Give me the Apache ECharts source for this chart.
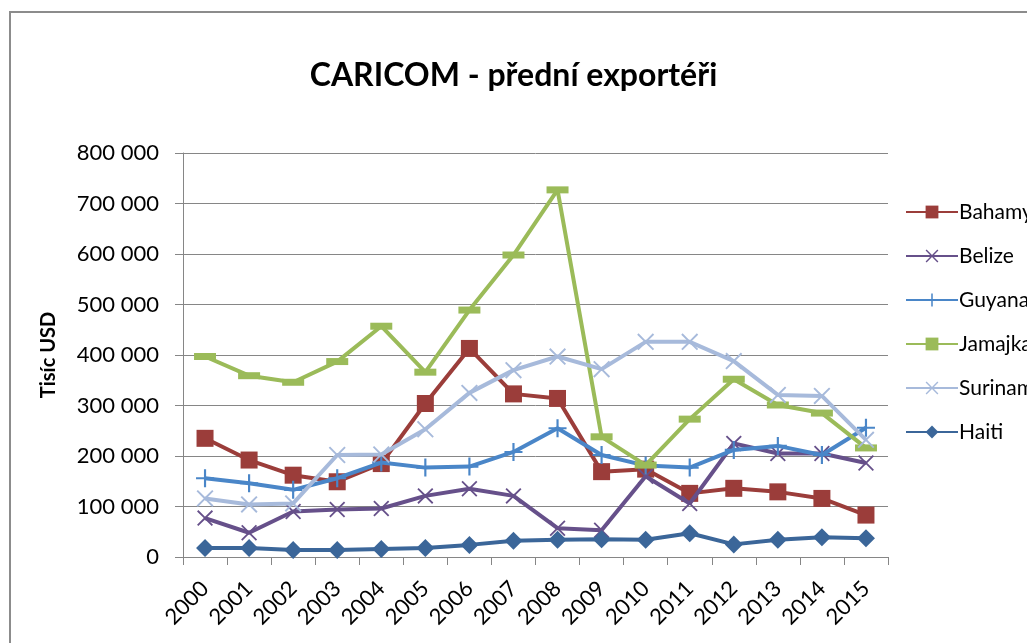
<!DOCTYPE html>
<html>
<head>
<meta charset="utf-8">
<script src="https://cdn.jsdelivr.net/npm/echarts@6/dist/echarts.min.js"></script>
<style>
html,body{margin:0;padding:0;background:#fff;}
#chart{width:1027px;height:643px;}
</style>
</head>
<body>
<div id="chart"></div>
<script>
const years = ['2000','2001','2002','2003','2004','2005','2006','2007','2008','2009','2010','2011','2012','2013','2014','2015'];
const seriesNames = ['Bahamy','Belize','Guyana','Jamajka','Surinam','Haiti'];
const bahamy  = [235000,192000,162000,149000,185000,304000,413000,323000,314000,169000,174000,126000,136000,129000,116000,83000];
const belize  = [77000,48000,90000,94000,96000,121000,135000,121000,57000,53000,160000,106000,225000,205000,205000,186000];
const guyana  = [156000,146000,133000,156000,187000,177000,179000,208000,255000,202000,181000,177000,212000,220000,202000,256000];
const jamajka = [397000,359000,346000,387000,457000,366000,489000,598000,727000,238000,182000,273000,352000,301000,285000,216000];
const surinam = [116000,104000,106000,202000,203000,253000,325000,370000,397000,372000,426000,426000,388000,321000,319000,232000];
const haiti   = [18000,18000,14000,14000,16000,18000,24000,32000,34000,35000,34000,47000,25000,34000,39000,37000];
const yTicks = {min:0, max:800000, interval:100000};

const colors = ['#9B3D3A','#66508A','#4A86C8','#9BBB59','#A7BADB','#3B6699'];
const xPath = 'path://M0,0.8 L0.8,0 L5,4.2 L9.2,0 L10,0.8 L5.8,5 L10,9.2 L9.2,10 L5,5.8 L0.8,10 L0,9.2 L4.2,5 Z';
const plusPath = 'path://M4.4,0 L5.6,0 L5.6,4.4 L10,4.4 L10,5.6 L5.6,5.6 L5.6,10 L4.4,10 L4.4,5.6 L0,5.6 L0,4.4 L4.4,4.4 Z';
const symbols = [['rect',17],[xPath,16],[plusPath,18],['rect',[22,7]],[xPath,17],['diamond',18]];
const dataSets = [bahamy,belize,guyana,jamajka,surinam,haiti];

const FONT = 'Lato';
const fmt = v => String(v).replace(/\B(?=(\d{3})+(?!\d))/g,' ');

const chart = echarts.init(document.getElementById('chart'), null, {renderer:'canvas'});
chart.setOption({
  animation:false,
  backgroundColor:'#fff',
  color: colors,
  graphic:[{type:'rect', shape:{x:10,y:12,width:1100,height:700}, style:{fill:'none',stroke:'#8C8C8C',lineWidth:2}, z:-1}],
  title:{text:'CARICOM - přední exportéři', left:'center', top:55,
    textStyle:{fontFamily:FONT, fontSize:32, fontWeight:'bold', color:'#000'}},
  legend:{orient:'vertical', left:900, top:195, itemWidth:52, itemHeight:16, itemGap:20,
    data: seriesNames,
    textStyle:{fontFamily:FONT, fontSize:21, color:'#000', lineHeight:24, padding:[0,0,0,-4]}},
  grid:{left:183, right:139, top:153, bottom:86, containLabel:false},
  xAxis:{type:'category', data:years, boundaryGap:true,
    axisLine:{lineStyle:{color:'#868686',width:1}},
    axisTick:{show:true, length:8, lineStyle:{color:'#868686'}},
    axisLabel:{rotate:45, fontFamily:FONT, fontSize:22, color:'#000', margin:28, interval:0}},
  yAxis:{type:'value', min:yTicks.min, max:yTicks.max, interval:yTicks.interval,
    name:'Tisíc USD', nameLocation:'middle', nameGap:124,
    nameTextStyle:{fontFamily:FONT, fontSize:20, fontWeight:'bold', color:'#000'},
    axisLine:{show:true, lineStyle:{color:'#868686',width:1}},
    axisTick:{show:true, length:8, lineStyle:{color:'#868686'}},
    splitLine:{lineStyle:{color:'#868686',width:1}},
    axisLabel:{fontFamily:FONT, fontSize:22, color:'#000', margin:24, formatter:fmt}},
  series: seriesNames.map((n,i)=>({
    name:n, type:'line', data:dataSets[i],
    symbol:symbols[i][0], symbolSize:symbols[i][1], symbolKeepAspect:false, showAllSymbol:true,
    lineStyle:{width:4, color:colors[i]},
    itemStyle:{color:colors[i], borderWidth:0},
    z: 2+i
  }))
});
</script>
</body>
</html>
